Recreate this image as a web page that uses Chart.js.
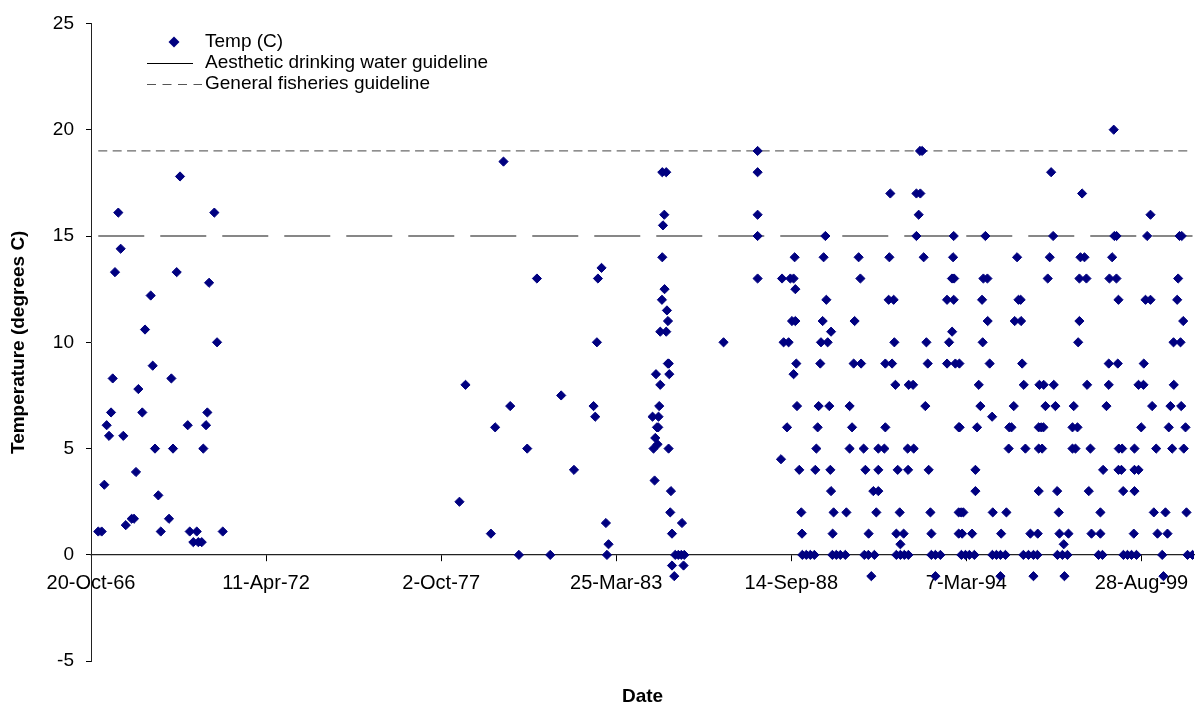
<!DOCTYPE html>
<html lang="en">
<head>
    <meta charset="UTF-8">
    <title>Temperature</title>
    <script src="https://cdn.jsdelivr.net/npm/chart.js"></script>
    <style>
        body { margin: 0; background: #fff; }
        .chart-box { width: 1201px; height: 710px; }
    </style>
</head>
<body>
    <div class="chart-box">
        <canvas id="tempChart" width="1201" height="710"></canvas>
    </div>

    <script>
        // sample dates as spreadsheet day numbers (1 = 1-Jan-1900)
        const sampleDates = [
            24483, 24522, 24552, 24579, 24606, 24629, 24648, 24674, 24712, 24739,
            24769, 24797, 24865, 24891, 24914, 24941, 24986, 25017, 25082, 25105,
            25131, 25169, 25197, 25291, 25318, 25337, 25379, 25417, 25505, 25528,
            25569, 25608, 25626, 25665, 25683, 25714, 25729, 25749, 25809, 25840,
            25905, 28609, 28678, 28968, 29017, 29112, 29189, 29288, 29383, 29494,
            29646, 29771, 29917, 30141, 30160, 30179, 30191, 30232, 30282, 30294,
            30312, 30815, 30826, 30838, 30846, 30854, 30865, 30872, 30880, 30883,
            30891, 30903, 30903, 30922, 30926, 30926, 30934, 30949, 30952, 30971,
            30971, 30979, 30990, 30991, 30998, 31000, 31006, 31017, 31025, 31037,
            31037, 31063, 31074, 31109, 31143, 31151, 31169, 31177, 31626, 32015,
            32015, 32015, 32015, 32015, 32282, 32294, 32312, 32351, 32369, 32389,
            32408, 32426, 32426, 32438, 32446, 32446, 32457, 32465, 32491, 32514,
            32522, 32526, 32571, 32617, 32663, 32674, 32686, 32701, 32712, 32731,
            32739, 32758, 32769, 32789, 32800, 32815, 32834, 32846, 32854, 32854,
            32869, 32872, 32883, 32914, 32960, 33017, 33029, 33066, 33066, 33094,
            33112, 33123, 33169, 33189, 33197, 33226, 33234, 33246, 33280, 33283,
            33314, 33337, 33349, 33371, 33394, 33394, 33394, 33463, 33474, 33474,
            33512, 33520, 33531, 33551, 33569, 33577, 33589, 33600, 33600, 33615,
            33638, 33646, 33646, 33683, 33691, 33729, 33734, 33737, 33741, 33791,
            33798, 33829, 33829, 33855, 33870, 33874, 33895, 33912, 33931, 33943,
            33958, 33969, 33989, 34000, 34000, 34046, 34046, 34103, 34179, 34179,
            34202, 34235, 34237, 34248, 34255, 34255, 34260, 34274, 34312, 34312,
            34312, 34320, 34323, 34340, 34343, 34351, 34365, 34389, 34434, 34465,
            34491, 34503, 34503, 34522, 34541, 34560, 34579, 34586, 34594, 34617,
            34640, 34643, 34666, 34694, 34697, 34701, 34743, 34789, 34789, 34797,
            34846, 34857, 34883, 34890, 34915, 34941, 34952, 34979, 34995, 35020,
            35025, 35037, 35051, 35055, 35074, 35109, 35131, 35166, 35166, 35211,
            35215, 35226, 35226, 35226, 35234, 35255, 35265, 35280, 35283, 35303,
            35329, 35352, 35368, 35391, 35398, 35417, 35437, 35440, 35455, 35463,
            35497, 35512, 35520, 35554, 35566, 35612, 35612, 35626, 35646, 35669,
            35677, 35691, 35691, 35703, 35722, 35749, 35771, 35779, 35798, 35817,
            35829, 35909, 35931, 35931, 35954, 35962, 36000, 36026, 36026, 36034,
            36065, 36083, 36090, 36114, 36115, 36129, 36137, 36137, 36141, 36171,
            36179, 36191, 36194, 36240, 36286, 36312, 36320, 36320, 36320, 36343,
            36366, 36366, 36397, 36423, 36426, 36446, 36465, 36503, 36503, 36522,
            36541, 36568, 36583, 36637, 36651, 36674, 36697, 36712, 36731, 36751,
            36766, 36769, 36808, 36819, 36835, 36846, 36854, 36860, 36877, 36883,
            36903, 36914, 36926, 36983
        ];

        // water temperature (C), same order as sampleDates
        const tempC = [
            1.1, 1.1, 3.3, 6.1, 5.6, 6.7, 8.3, 13.3, 16.1, 14.4,
            5.6, 1.4, 1.7, 1.7, 3.9, 7.8, 6.7, 10.6, 12.2, 8.9,
            5, 2.8, 1.1, 1.7, 8.3, 5, 13.3, 17.8, 6.1, 1.1,
            0.6, 1.1, 0.6, 0.6, 5, 6.1, 6.7, 12.8, 16.1, 10,
            1.1, 2.5, 8, 1, 6, 18.5, 7, 0, 5, 13,
            0, 7.5, 4, 7, 6.5, 10, 13, 13.5, 1.5, 0,
            0.5, 6.5, 5, 3.5, 5.5, 8.5, 6, 5.2, 6, 6.5,
            7, 10.5, 8, 12, 18, 14, 15.5, 16, 12.5, 18,
            10.5, 11.5, 9, 11, 5, 9, 8.5, 2, 3, 1,
            -0.5, -1, 0, 0, 0, 1.5, -0.5, 0, 10, 19,
            18, 16, 15, 13, 4.5, 13, 10, 6, 10, 13,
            11, 13, 8.5, 14, 12.5, 11, 9, 7, 4, 2,
            1, 0, 0, 0, 0, 4, 5, 6, 7, 9,
            10, 11, 14, 15, 12, 10, 7, 4, 10.5, 3,
            0, 1, 2, 0, 0, 0, 2, 7, 5, 6,
            9, 11, 14, 13, 9, 5, 0, 4, 0, 1,
            -1, 3, 0, 2, 5, 4, 3, 5, 9, 6,
            12, 14, 17, 9, 12, 10, 8, 1, 0, 4,
            2, 0.5, 0, 1, 0, 5, 4, 0, 8, 8,
            5, 17, 15, 16, 19, 17, 19, 14, 7, 10,
            9, 4, 2, 1, 0, 0, -1, 0, 12, 9,
            10, 13, 10.5, 14, 15, 12, 13, 9, 6, 2,
            1, 9, 6, 2, 0, 1, 2, 0, 0, 1,
            0, 4, 3, 6, 8, 7, 12, 10, 13, 15,
            13, 11, 9, 6.5, 0, 2, 0, 0, -1, 1,
            0, 2, 5, 6, 6, 7, 11, 14, 12, 12,
            11, 9, 0, 8, 5, 0, 1, 0, -1, 0,
            1, 6, 5, 3, 8, 6, 5, 6, 8, 7,
            13, 14, 18, 15, 8, 7, 3, 0, 2, 1,
            0, 0.5, -1, 0, 1, 6, 5, 7, 5, 6,
            10, 13, 11, 14, 17, 14, 13, 8, 3, 5,
            1, 0, 2, 1, 0, 4, 7, 9, 8, 13,
            14, 20, 15, 13, 15, 9, 12, 4, 5, 4,
            5, 3, 0, 0, 0, 1, 5, 4, 3, 0,
            8, 4, 6, 8, 9, 12, 15, 16, 12, 7,
            2, 5, 1, 0, -1, 2, 1, 6, 7, 5,
            10, 8, 12, 13, 15, 10, 7, 15, 11, 5,
            6, 2, 0, 0
        ];

        // guideline lines run from the first to the last sample
        const guideDates = [24483, 36983];
        const aestheticGuideline = 15;
        const fisheriesGuideline = 19;

        const dateTicks = [24400, 26400, 28400, 30400, 32400, 34400, 36400];
        const dateMin = 24400;
        const dateMax = 37000;

        const MONTHS = ['Jan', 'Feb', 'Mar', 'Apr', 'May', 'Jun', 'Jul', 'Aug', 'Sep', 'Oct', 'Nov', 'Dec'];
        function serialToLabel(serial) {
            const d = new Date(Date.UTC(1899, 11, 30) + serial * 86400000);
            return d.getUTCDate() + '-' + MONTHS[d.getUTCMonth()] + '-' + String(d.getUTCFullYear()).slice(2);
        }

        const FONT = '"Liberation Sans", Arial, sans-serif';
        Chart.defaults.font.family = FONT;
        Chart.defaults.color = '#000';

        // Excel style legend in the top left corner
        const legendPlugin = {
            id: 'excelLegend',
            afterDraw(chart) {
                const ctx = chart.ctx;
                ctx.save();
                ctx.font = '19px ' + FONT;
                ctx.fillStyle = '#000';
                ctx.textBaseline = 'middle';

                // Temp (C)
                ctx.fillStyle = '#000080';
                ctx.beginPath();
                ctx.moveTo(168.5, 42);
                ctx.lineTo(174, 36.5);
                ctx.lineTo(179.5, 42);
                ctx.lineTo(174, 47.5);
                ctx.closePath();
                ctx.fill();
                ctx.fillStyle = '#000';
                ctx.fillText('Temp (C)', 205, 42);

                // aesthetic line
                ctx.strokeStyle = '#000';
                ctx.lineWidth = 1;
                ctx.beginPath();
                ctx.moveTo(147, 63.5);
                ctx.lineTo(193, 63.5);
                ctx.stroke();
                ctx.fillText('Aesthetic drinking water guideline', 205, 63);

                // fisheries line
                ctx.strokeStyle = '#555';
                ctx.setLineDash([9, 6.5]);
                ctx.beginPath();
                ctx.moveTo(147, 84.5);
                ctx.lineTo(202, 84.5);
                ctx.stroke();
                ctx.setLineDash([]);
                ctx.fillText('General fisheries guideline', 205, 84);
                ctx.restore();
            }
        };

        const ctx = document.getElementById('tempChart').getContext('2d');
        const tempChart = new Chart(ctx, {
            type: 'scatter',
            data: {
                datasets: [
                    {
                        label: 'Temp (C)',
                        data: sampleDates.map((d, i) => ({ x: d, y: tempC[i] })),
                        pointStyle: 'rectRot',
                        pointRadius: 4.6,
                        borderWidth: 1,
                        backgroundColor: '#000080',
                        borderColor: '#000080'
                    },
                    {
                        label: 'Aesthetic drinking water guideline',
                        data: guideDates.map(d => ({ x: d, y: aestheticGuideline })),
                        showLine: true,
                        borderColor: '#111',
                        borderWidth: 1.2,
                        borderDash: [46, 16],
                        pointRadius: 0
                    },
                    {
                        label: 'General fisheries guideline',
                        data: guideDates.map(d => ({ x: d, y: fisheriesGuideline })),
                        showLine: true,
                        borderColor: '#6a6a6a',
                        borderWidth: 1.3,
                        borderDash: [9, 5.4],
                        pointRadius: 0
                    }
                ]
            },
            options: {
                responsive: false,
                animation: false,
                events: [],
                layout: { padding: { top: 13, right: 7, left: 0, bottom: 0 } },
                plugins: {
                    legend: { display: false },
                    tooltip: { enabled: false },
                    title: {
                        display: true,
                        text: 'Date',
                        position: 'bottom',
                        fullSize: false,
                        color: '#000',
                        font: { size: 19, weight: 'bold' },
                        padding: { top: 24, bottom: 2 }
                    }
                },
                scales: {
                    x: {
                        type: 'linear',
                        position: { y: 0 },
                        min: dateMin,
                        max: dateMax,
                        afterBuildTicks: s => { s.ticks = dateTicks.map(v => ({ value: v })); },
                        ticks: {
                            autoSkip: false,
                            maxRotation: 0,
                            padding: 11,
                            font: { size: 20 },
                            callback: v => serialToLabel(v)
                        },
                        grid: { drawOnChartArea: false, drawTicks: true, tickLength: 6, color: '#000' },
                        border: { color: '#222', width: 1.2 }
                    },
                    y: {
                        min: -5,
                        max: 25,
                        afterFit: s => { s.width = 91; },
                        ticks: { stepSize: 5, padding: 12, font: { size: 19 } },
                        grid: { drawOnChartArea: false, drawTicks: true, tickLength: 5, color: '#000' },
                        border: { color: '#222', width: 1 },
                        title: {
                            display: true,
                            text: 'Temperature (degrees C)',
                            font: { size: 19, weight: 'bold' },
                            padding: { top: 7, bottom: 0 }
                        }
                    }
                }
            },
            plugins: [legendPlugin]
        });
    </script>
</body>
</html>
